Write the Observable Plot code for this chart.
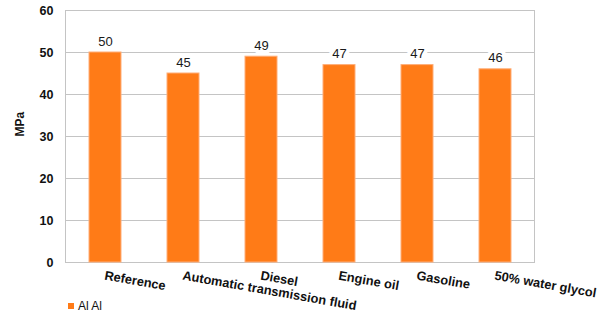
<!DOCTYPE html>
<html>
<head>
<meta charset="utf-8">
<script src="https://cdn.jsdelivr.net/npm/d3@7"></script>
<script src="https://cdn.jsdelivr.net/npm/@observablehq/plot@0.6"></script>
<style>
  html, body { margin: 0; padding: 0; background: #fff; }
  body { width: 605px; height: 317px; position: relative; overflow: hidden; font-family: "Liberation Sans", Arial, sans-serif; }
  #chart svg { overflow: visible; display: block; }
  #legend { position: absolute; left: 68px; top: 299px; font-size: 12px; color: #111; display: flex; align-items: center; }
  #legend .sw { width: 6px; height: 6px; background: #ff7b17; margin-right: 4px; }
</style>
</head>
<body>
<div id="chart"></div>
<div id="legend"><span class="sw"></span><span>Al Al</span></div>
<script>
const categories = ["Reference", "Automatic transmission fluid", "Diesel", "Engine oil", "Gasoline", "50% water glycol"];
const values = [50, 45, 49, 47, 47, 46];
const yTicks = [0, 10, 20, 30, 40, 50, 60];
const seriesName = "Al Al";
const yLabel = "MPa";

const data = categories.map((c, i) => ({category: c, value: values[i]}));

const chart = Plot.plot({
  width: 605,
  height: 290,
  marginLeft: 65,
  marginRight: 71,
  marginTop: 10,
  marginBottom: 28,
  style: {fontFamily: "'Liberation Sans', Arial, sans-serif", background: "white", overflow: "visible"},
  x: {domain: categories, paddingInner: 0.59, paddingOuter: 0.295, axis: null},
  y: {domain: [0, 60], axis: null},
  marks: [
    Plot.ruleY(yTicks, {stroke: "#c4c4c4", strokeWidth: 1}),
    Plot.frame({stroke: "#c4c4c4", strokeWidth: 1}),
    Plot.barY(data, {x: "category", y: "value", fill: "#ff7b17", stroke: "#ffae78", strokeWidth: 1, inset: 0}),
    Plot.text(data, {x: "category", y: "value", text: d => String(d.value), dy: -7, lineAnchor: "bottom", fontSize: 13, fill: "#1a1a1a", stroke: "white", strokeWidth: 8}),
    Plot.text(yTicks, {y: d => d, text: d => String(d), frameAnchor: "left", textAnchor: "end", dx: -12, fontWeight: "bold", fontSize: 12.5, fill: "#111"}),
    Plot.text([yLabel], {text: d => d, frameAnchor: "left", dx: -45, rotate: -90, fontWeight: "bold", fontSize: 12, fill: "#111"}),
    Plot.text(categories, {x: d => d, text: d => d, frameAnchor: "bottom", textAnchor: "start", lineAnchor: "top", rotate: 10, dy: 8, fontWeight: "bold", fontSize: 12.8, fill: "#111"})
  ]
});
document.getElementById("chart").appendChild(chart);
</script>
</body>
</html>
